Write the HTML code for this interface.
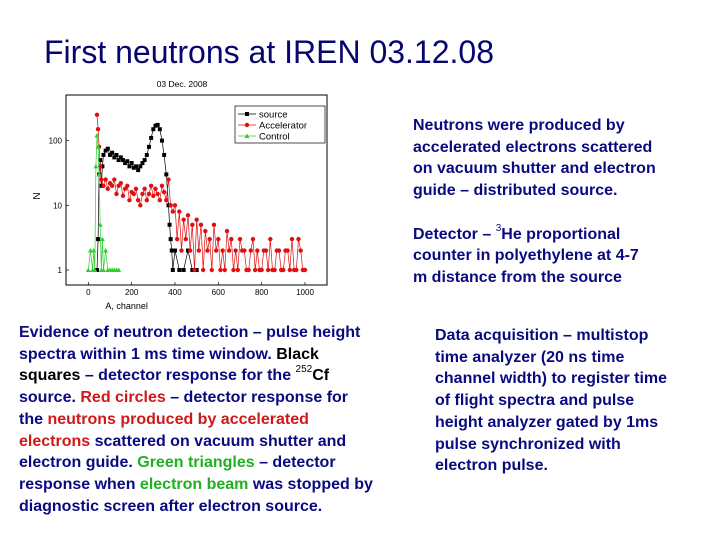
<!DOCTYPE html>
<html><head><meta charset="utf-8">
<style>
body{margin:0;width:720px;height:540px;background:#fff;position:relative;overflow:hidden;font-family:"Liberation Sans",Arial,sans-serif;}
.t{position:absolute;color:#0a0a80;font-size:16px;line-height:21.7px;white-space:nowrap;font-weight:bold;}
.r{color:#d01818}.g{color:#20b020}.k{color:#000}
sup{font-size:10px;vertical-align:top;line-height:10px;font-weight:normal;}
</style></head><body>
<div class="t" style="left:44px;top:33px;font-size:32px;line-height:38px;font-weight:normal;color:#06066e;">First neutrons at IREN 03.12.08</div>

<svg style="position:absolute;left:20px;top:75px" width="320" height="245" id="chart"></svg>

<div class="t" style="left:413px;top:115px;">Neutrons were produced by<br>accelerated electrons scattered<br>on vacuum shutter and electron<br>guide – distributed source.<br><br>Detector – <sup>3</sup>He proportional<br>counter in polyethylene at 4-7<br>m distance from the source</div>

<div class="t" style="left:19px;top:322px;">Evidence of neutron detection – pulse height<br>spectra within 1 ms time window. <span class="k">Black</span><br><span class="k">squares</span> – detector response for the <span class="k"><sup>252</sup>Cf</span><br>source. <span class="r">Red circles</span> – detector response for<br>the <span class="r">neutrons produced by accelerated</span><br><span class="r">electrons</span> scattered on vacuum shutter and<br>electron guide. <span class="g">Green triangles</span> – detector<br>response when <span class="g">electron beam</span> was stopped by<br>diagnostic screen after electron source.</div>

<div class="t" style="left:435px;top:325px;">Data acquisition – multistop<br>time analyzer (20 ns time<br>channel width) to register time<br>of flight spectra and pulse<br>height analyzer gated by 1ms<br>pulse synchronized with<br>electron pulse.</div>

<script>
const xTicks=[0,200,400,600,800,1000];
const yTicks=[1,10,100];
const srcX=[40,45,50,55,60,65,70,80,90,100,110,120,130,140,150,160,170,180,190,200,210,220,230,240,250,260,270,280,290,300,310,320,330,340,350,360,370,375,380,385,390,400,420,440,460,480,500];
const srcY=[1,3,30,50,20,40,60,70,75,60,65,55,60,50,55,50,45,48,40,45,38,40,35,40,45,50,60,80,110,150,170,175,150,100,60,30,10,5,3,2,1,2,1,1,2,1,1];
const accX=[40,45,50,55,60,70,80,90,100,110,120,130,140,150,160,170,180,190,200,210,220,230,240,250,260,270,280,290,300,310,320,330,340,350,360,370,380,390,400,410,420,430,440,450,460,470,480,490,500,510,520,530,540,550,560,570,580,590,600,610,620,630,640,650,660,670,680,690,700,710,720,730,740,750,760,770,780,790,800,810,820,830,840,850,860,870,880,890,900,910,920,930,940,950,960,970,980,990,1000];
const accY=[250,150,80,40,25,20,25,18,22,20,25,15,20,22,14,18,20,12,16,15,18,12,10,15,18,12,15,20,14,18,15,12,20,16,12,25,10,8,10,3,8,2,6,3,7,2,5,1,6,2,5,1,4,2,3,1,5,2,3,1,2,1,4,2,3,1,2,1,3,2,2,1,1,2,3,1,2,1,1,2,2,1,3,1,1,2,2,1,1,2,2,1,3,1,1,3,2,1,1];
const ctlX=[0,10,20,25,30,35,40,45,50,55,60,65,70,80,90,100,110,120,130,140];
const ctlY=[1,2,1,2,1,40,120,80,30,5,1,3,1,2,1,1,1,1,1,1];

const svg=document.getElementById('chart');
const NS='http://www.w3.org/2000/svg';
const L=46,R=307,T=20,B=210;
const X=v=>68.3+v*0.2167;
const Y=v=>195-Math.log10(v)*64.7;
function mk(tag,attrs,parent){const e=document.createElementNS(NS,tag);for(const k in attrs)e.setAttribute(k,attrs[k]);(parent||svg).appendChild(e);return e;}

const frame=mk('rect',{x:L,y:T,width:R-L,height:B-T,fill:'none',stroke:'#000','stroke-width':1});


const ttl=mk('text',{x:162,y:12,'font-size':8.5,'text-anchor':'middle','font-family':'Liberation Sans, sans-serif'});
ttl.textContent='03 Dec. 2008';



xTicks.forEach(v=>{
  mk('line',{x1:X(v),x2:X(v),y1:B,y2:B-3,stroke:'#000','stroke-width':0.7});
  const t=mk('text',{x:X(v),y:B+10,'font-size':8,'text-anchor':'middle','font-family':'Liberation Sans, sans-serif'});
  t.textContent=v;
  
  
});
yTicks.forEach(v=>{
  mk('line',{x1:L,x2:L+3,y1:Y(v),y2:Y(v),stroke:'#000','stroke-width':0.7});
  const t=mk('text',{x:L-4,y:Y(v)+3,'font-size':8,'text-anchor':'end','font-family':'Liberation Sans, sans-serif'});
  t.textContent=v;
  
  
});
const xl=mk('text',{x:X(500)-70,y:B+24,'font-size':9,'text-anchor':'middle','font-family':'Liberation Sans, sans-serif'});
xl.textContent='A, channel';


const yl=mk('text',{x:0,y:0,'font-size':10,'text-anchor':'middle','font-family':'Liberation Sans, sans-serif',transform:'translate(20,121) rotate(-90)'});
yl.textContent='N';



function series(xs,ys,color,shape,name){
  const g=mk('g',{});
  
  
  let d=xs.map((x,i)=>(i?'L':'M')+X(x).toFixed(1)+','+Y(ys[i]).toFixed(1)).join('');
  mk('path',{d:d,fill:'none',stroke:color,'stroke-width':0.7},g);
  xs.forEach((x,i)=>{
    let m;
    const cx=X(x),cy=Y(ys[i]);
    if(shape==='sq')m=mk('rect',{x:cx-2,y:cy-2,width:4,height:4,fill:color},g);
    else if(shape==='c')m=mk('circle',{cx:cx,cy:cy,r:2.2,fill:color},g);
    else m=mk('path',{d:`M${cx},${cy-2.5}L${cx+2.5},${cy+2}L${cx-2.5},${cy+2}Z`,fill:color},g);
    
    
  });
}
series(srcX,srcY,'#000','sq','source');
series(accX,accY,'#e01010','c','accelerator');
series(ctlX,ctlY,'#30d030','t','control');

const lg=mk('g',{});


mk('rect',{x:215,y:31,width:90,height:37,fill:'#fff',stroke:'#000','stroke-width':0.7},lg);
[['source','#000','sq'],['Accelerator','#e01010','c'],['Control','#30d030','t']].forEach((e,i)=>{
  const y=39+i*11;
  mk('line',{x1:218,x2:236,y1:y,y2:y,stroke:e[1],'stroke-width':0.7},lg);
  if(e[2]==='sq')mk('rect',{x:225,y:y-2,width:4,height:4,fill:e[1]},lg);
  else if(e[2]==='c')mk('circle',{cx:227,cy:y,r:2.2,fill:e[1]},lg);
  else mk('path',{d:`M227,${y-2.5}L229.5,${y+2}L224.5,${y+2}Z`,fill:e[1]},lg);
  const t=mk('text',{x:239,y:y+3.5,'font-size':9.5,'font-family':'Liberation Sans, sans-serif'},lg);
  t.textContent=e[0];
  
  
});
</script>
</body></html>
